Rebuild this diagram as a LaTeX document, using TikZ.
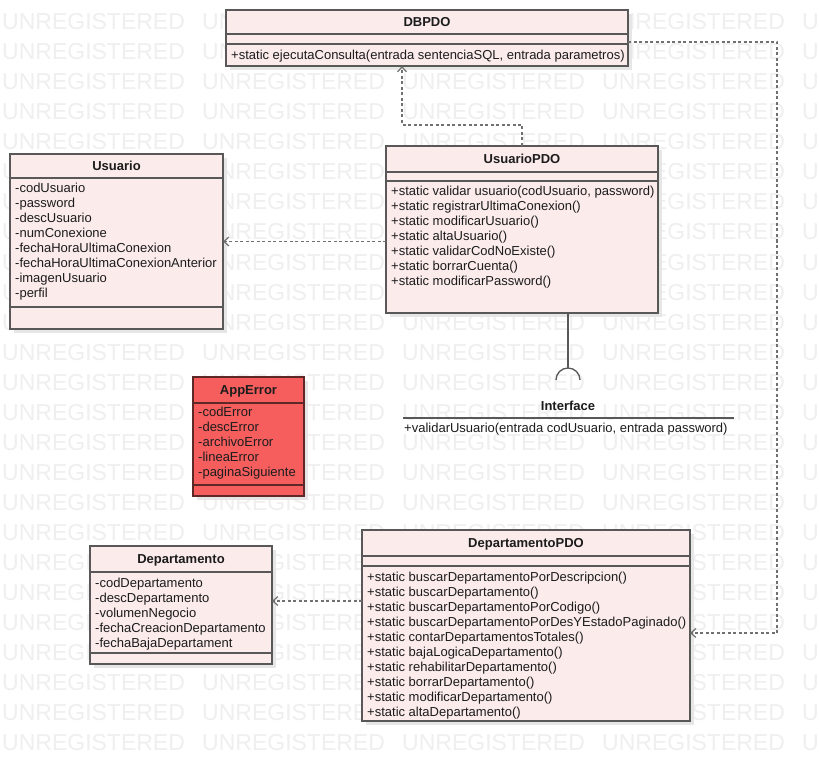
\documentclass[tikz,border=0pt]{standalone}
\usepackage{fontspec}
\setmainfont{Liberation Sans}
\usetikzlibrary{arrows.meta}
\definecolor{boxfill}{RGB}{251,235,235}
\definecolor{boxline}{RGB}{88,88,88}
\definecolor{errfill}{RGB}{246,94,94}
\definecolor{errline}{RGB}{95,40,40}
\definecolor{conn}{RGB}{112,112,112}
\definecolor{wmark}{RGB}{239,239,239}
\definecolor{shadowc}{RGB}{230,230,230}
\definecolor{txtc}{RGB}{28,28,28}
\newcommand\classbox[6][]{%
  \fill[shadowc] (#3+4,#4+4) rectangle (#5+4,#6+4);
  \node[cbox,#1,minimum width={(#5-#3)*1pt},minimum height={(#6-#4)*1pt}] (#2) at ({(#3+#5)/2},{(#4+#6)/2}) {};
}
\newcommand\classdiv[3][div]{\draw[#1] (#2.west |- 0,#3) -- (#2.east |- 0,#3);}
\begin{document}
\begin{tikzpicture}[x=1pt,y=-1pt,
  cbox/.style={rectangle,draw=boxline,fill=boxfill,line width=1.2pt,inner sep=0pt,outer sep=0pt},
  errbox/.style={draw=errline,fill=errfill},
  div/.style={draw=boxline,line width=1.2pt},
  errdiv/.style={draw=errline,line width=1.2pt},
  txt/.style={anchor=base west,inner sep=0pt,font=\fontsize{13}{15}\selectfont,text=txtc},
  ttl/.style={anchor=base,inner sep=0pt,font=\fontsize{13}{15}\selectfont\bfseries,text=txtc},
  dep/.style={draw=conn,line width=1.2pt,dash pattern=on 3pt off 2.5pt,-{Straight Barb[length=5pt,width=9pt]}},
  sockline/.style={draw=boxline,line width=1.3pt},
  wm/.style={anchor=base west,inner sep=0pt,font=\fontsize{23}{23}\selectfont,text=wmark}]
\useasboundingbox (0,0) rectangle (819,762);
\clip (0,0) rectangle (819,762);
\fill[white] (0,0) rectangle (819,762);
% watermark
\foreach \r in {0,...,24}{\foreach \c in {0,...,4}{%
  \node[wm] (wm-\r-\c) at ({2+200*\c},{30+30*\r}) {UNREGISTERED};}}
% DBPDO
\classbox{dbpdo}{226}{10}{628}{66}
\classdiv{dbpdo}{34}
\classdiv{dbpdo}{44}
\node[ttl] (dbpdo-t) at (427,26.5) {DBPDO};
\node[txt] (dbpdo-m1) at (231,59.5) {+static ejecutaConsulta(entrada sentenciaSQL, entrada parametros)};
% Usuario
\classbox{usuario}{10}{154}{223}{329}
\classdiv{usuario}{178}
\classdiv{usuario}{307}
\node[ttl] (usuario-t) at (116.5,170.5) {Usuario};
\foreach \t [count=\i from 0] in {-codUsuario,-password,-descUsuario,-numConexione,-fechaHoraUltimaConexion,-fechaHoraUltimaConexionAnterior,-imagenUsuario,-perfil}
  \node[txt] (usuario-a\i) at (15,{192.5+15*\i}) {\t};
% UsuarioPDO
\classbox{usuariopdo}{386}{146}{658}{313}
\classdiv{usuariopdo}{172}
\classdiv{usuariopdo}{181}
\node[ttl] (usuariopdo-t) at (522,163.5) {UsuarioPDO};
\foreach \t [count=\i from 0] in {{+static validar usuario(codUsuario, password)},+static registrarUltimaConexion(),+static modificarUsuario(),+static altaUsuario(),+static validarCodNoExiste(),+static borrarCuenta(),+static modificarPassword()}
  \node[txt] (usuariopdo-m\i) at (391,{195.5+15*\i}) {\t};
% AppError
\classbox[errbox]{apperror}{193}{377}{304}{496}
\classdiv[errdiv]{apperror}{403}
\classdiv[errdiv]{apperror}{485}
\node[ttl] (apperror-t) at (248.5,394.5) {AppError};
\foreach \t [count=\i from 0] in {-codError,-descError,-archivoError,-lineaError,-paginaSiguiente}
  \node[txt] (apperror-a\i) at (198,{416.5+15*\i}) {\t};
% Departamento
\classbox{departamento}{90}{546}{272}{664}
\classdiv{departamento}{572}
\classdiv{departamento}{653}
\node[ttl] (departamento-t) at (181,563.5) {Departamento};
\foreach \t [count=\i from 0] in {-codDepartamento,-descDepartamento,-volumenNegocio,-fechaCreacionDepartamento,-fechaBajaDepartament}
  \node[txt] (departamento-a\i) at (95,{587.5+15*\i}) {\t};
% DepartamentoPDO
\classbox{deptpdo}{362}{530}{690}{721}
\classdiv{deptpdo}{556}
\classdiv{deptpdo}{566}
\node[ttl] (deptpdo-t) at (526,547.5) {DepartamentoPDO};
\foreach \t [count=\i from 0] in {+static buscarDepartamentoPorDescripcion(),+static buscarDepartamento(),+static buscarDepartamentoPorCodigo(),+static buscarDepartamentoPorDesYEstadoPaginado(),+static contarDepartamentosTotales(),+static bajaLogicaDepartamento(),+static rehabilitarDepartamento(),+static borrarDepartamento(),+static modificarDepartamento(),+static altaDepartamento()}
  \node[txt] (deptpdo-m\i) at (367,{581.5+15*\i}) {\t};
% Interface
\coordinate (sock) at (568,368);
\draw[sockline] (sock |- usuariopdo.south) -- (sock);
\draw[sockline] (sock) ++(-12,12) arc[start angle=180,end angle=0,radius=12pt];
\node[ttl] (iface-t) at (568,410.5) {Interface};
\coordinate (ifl) at (403,418);
\coordinate (ifr) at (734,418);
\draw[div] (ifl) -- (ifr);
\node[txt] (iface-m) at (404,432.5) {+validarUsuario(entrada codUsuario, entrada password)};
% connectors
\coordinate (c1) at (402,125);
\draw[dep] (usuariopdo.north) |- (c1) -- (c1 |- dbpdo.south);
\draw[dep] (usuariopdo.west |- usuario.east) -- (usuario.east);
\coordinate (c3a) at (777,42);
\coordinate (c3b) at (777,633);
\draw[dep] (dbpdo.east |- c3a) -- (c3a) -- (c3b) -- (deptpdo.east |- c3b);
\coordinate (c4) at (317,601);
\draw[dep] (deptpdo.west |- c4) -- (departamento.east |- c4);
\end{tikzpicture}
\end{document}
